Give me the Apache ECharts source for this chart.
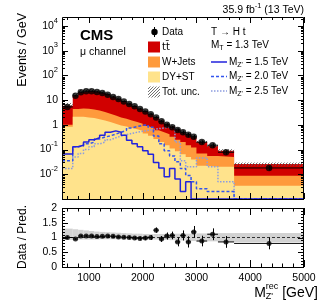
<!DOCTYPE html>
<html><head><meta charset="utf-8">
<script src="https://cdn.jsdelivr.net/npm/echarts@6/dist/echarts.min.js"></script>
<style>html,body{margin:0;padding:0;background:#fff}#c{width:324px;height:305px}</style>
</head><body><div id="c"></div>
<script>
// ---------------- data ----------------
const binLo = [500,700,800,900,1000,1100,1200,1300,1400,1500,1600,1700,1800,1900,2000,2100,2200,2300,2400,2500,2600,2700,2800,2900,3000,3200,3400,3700];
const binHi = [700,800,900,1000,1100,1200,1300,1400,1500,1600,1700,1800,1900,2000,2100,2200,2300,2400,2500,2600,2700,2800,2900,3000,3200,3400,3700,5000];
const dataVals = [5.3,15,21,23,23,21.5,19.5,16.5,13.5,11,8.8,7,5.6,4.4,3.5,2.7,2.0,1.4,1.0,0.8,0.62,0.5,0.4,0.33,0.2,0.15,0.078,0.018];
const dataErrRel = [0.06,0.04,0.03,0.03,0.03,0.03,0.03,0.035,0.04,0.04,0.045,0.05,0.055,0.06,0.07,0.08,0.09,0.1,0.12,0.13,0.15,0.17,0.19,0.2,0.18,0.2,0.2,0.2];
const ttbar = [4.9,10.6,16.4,18.5,18.8,17.7,16.2,13.7,11.1,9.0,7.05,5.5,4.3,3.3,2.6,1.95,1.4,1.0,0.68,0.52,0.4,0.3,0.25,0.2,0.13,0.085,0.04,0.0172];
const wjets = [0.17,2.3,2.5,2.5,2.3,2.1,1.8,1.5,1.3,1.05,0.9,0.75,0.64,0.53,0.45,0.39,0.33,0.3,0.27,0.22,0.165,0.135,0.1,0.08,0.048,0.035,0.03,0.0054];
const dyst = [0.83,2.1,2.1,2.0,1.9,1.7,1.5,1.3,1.1,0.95,0.85,0.75,0.66,0.57,0.45,0.36,0.27,0.2,0.15,0.11,0.085,0.065,0.05,0.04,0.022,0.02,0.02,0.0034];
const uncUp = [0.3,0.28,0.26,0.24,0.22,0.2,0.19,0.18,0.17,0.16,0.15,0.14,0.13,0.13,0.12,0.12,0.12,0.12,0.12,0.12,0.13,0.13,0.13,0.14,0.14,0.15,0.15,0.15];
const uncDn = [0.08,0.08,0.07,0.07,0.07,0.07,0.06,0.06,0.06,0.06,0.06,0.06,0.06,0.06,0.06,0.06,0.07,0.07,0.08,0.09,0.1,0.1,0.11,0.12,0.12,0.13,0.14,0.15];
const sigM15 = [0.066,0.13,0.15,0.2,0.25,0.3,0.38,0.5,0.57,0.5,0.38,0.24,0.17,0.13,0.09,0.065,0.03,0.018,0.008,0.017,0.0065,0.002,0.005,0,0,0,0,0];
const sigM20 = [0.035,0.13,0.14,0.17,0.2,0.27,0.32,0.36,0.42,0.5,0.6,0.75,0.85,0.95,1.0,0.8,0.35,0.17,0.09,0.055,0.032,0.017,0.009,0.005,0.0026,0.002,0.002,0];
const sigM25 = [0.017,0.05,0.07,0.1,0.13,0.17,0.2,0.25,0.3,0.35,0.4,0.45,0.5,0.55,0.6,0.65,0.7,0.75,0.8,0.7,0.2,0.035,0.02,0.02,0.046,0.02,0.005,0];
const ratioVals = [1.0,0.95,1.05,1.05,1.05,1.03,1.04,1.05,1.04,1.02,1.01,1.0,0.98,0.97,0.98,1.0,1.25,0.95,1.05,1.07,0.85,1.07,0.85,1.19,0.88,1.11,0.85,0.8];
const ratioErr = [0.05,0.03,0.03,0.03,0.03,0.03,0.03,0.035,0.04,0.04,0.045,0.05,0.055,0.06,0.07,0.08,0.09,0.1,0.12,0.13,0.15,0.17,0.19,0.2,0.18,0.2,0.2,0.2];
const xLabelVals = [1000,2000,3000,4000,5000];
const xMinorVals = [600,800,1200,1400,1600,1800,2200,2400,2600,2800,3200,3400,3600,3800,4200,4400,4600,4800];
const yMainExps = [-2,-1,0,1,2,3,4];
const ratioLabelVals = [0,0.5,1,1.5,2];
const legLeft = ['Data','tt\u0304','W+Jets','DY+ST','Tot. unc.'];
const sigLabels = ['1.5 TeV','2.0 TeV','2.5 TeV'];

// ---------------- style ----------------
const FONT = "'Liberation Sans', Arial, Helvetica, sans-serif";
const xMin = 500, xMax = 5000, yMin = 1e-3, yMax = 2.3e4;
const C_TT = '#d10000', C_W = '#fe9a3c', C_DY = '#ffe38c';
const C_S15 = '#2222dd', C_S20 = '#3355ee', C_S25 = '#8c9ce0';

const hatch = document.createElement('canvas');
hatch.width = 3; hatch.height = 3;
(function(){const g=hatch.getContext('2d');g.fillStyle='rgba(90,90,90,0.85)';g.fillRect(0,2,1,1);g.fillRect(1,1,1,1);g.fillRect(2,0,1,1);})();
const hatchPat = {image: hatch, repeat: 'repeat'};

const n = binLo.length;
const centers = binLo.map((l,i)=>(l+binHi[i])/2);
const cumDY = dyst.slice();
const cumW = dyst.map((v,i)=>v+wjets[i]);
const cumTot = cumW.map((v,i)=>v+ttbar[i]);
const step = vals => { const p=[]; vals.forEach((v,i)=>{ const y = v>0? v : yMin; p.push([binLo[i],y],[binHi[i],y]); }); return p; };

const mctx = document.createElement('canvas').getContext('2d');
function tw(t, size, bold, fam){ mctx.font = (bold?'bold ':'') + size + 'px ' + (fam||FONT); return mctx.measureText(t).width; }
function run(pieces, x, y, align){
  let total=0, pend=0;
  pieces.forEach(p=>{ const w=tw(p.t,p.s,p.bold,p.fam); if(p.noAdv){pend=Math.max(pend,w);} else {total+=Math.max(w,pend);pend=0;} });
  let cx = align==='right' ? x-total : x;
  const out=[]; pend=0;
  pieces.forEach(p=>{ const w=tw(p.t,p.s,p.bold,p.fam);
    out.push({type:'text', x:cx, y:y+(p.dy||0), z:50, style:{text:p.t, font:(p.bold?'bold ':'')+p.s+'px '+(p.fam||FONT), fill:'#000', textAlign:'left', textVerticalAlign:'middle'}});
    if(p.noAdv){pend=Math.max(pend,w);} else {cx+=Math.max(w,pend);pend=0;}
  });
  return out;
}

function tickSeries(xi, yi, xMaj, xMinr, yMaj, yMinr, L, xRef, yRef){
  return {type:'custom', xAxisIndex:xi, yAxisIndex:yi, z:30, silent:true, clip:false,
    data:[[xRef,yRef]],
    renderItem(params, api){
      const cs=params.coordSys, x0=cs.x, x1=cs.x+cs.width, y0=cs.y, y1=cs.y+cs.height;
      const ch=[], st={stroke:'#000', lineWidth:1};
      const ln=(a,b,c,d)=>ch.push({type:'line', shape:{x1:a,y1:b,x2:c,y2:d}, style:st});
      const tx=(v,len)=>{const p=Math.round(api.coord([v,yRef])[0])+0.5; ln(p,y1,p,y1-len); ln(p,y0,p,y0+len);};
      const ty=(v,len)=>{const p=Math.round(api.coord([xRef,v])[1])+0.5; ln(x0,p,x0+len,p); ln(x1,p,x1-len,p);};
      xMaj.forEach(v=>tx(v,L[0])); xMinr.forEach(v=>tx(v,L[1]));
      yMaj.forEach(v=>ty(v,L[2])); yMinr.forEach(v=>ty(v,L[3]));
      ch.push({type:'rect', shape:{x:Math.round(x0)+0.5,y:Math.round(y0)+0.5,width:Math.round(cs.width)-1,height:Math.round(cs.height)}, style:{fill:null, stroke:'#000', lineWidth:1}});
      return {type:'group', children:ch};
    }};
}
const yMajVals = [-3,-2,-1,0,1,2,3,4].map(e=>Math.pow(10,e));
const yMinVals = []; [-3,-2,-1,0,1,2,3,4].forEach(e=>{for(let k=2;k<=9;k++){const v=k*Math.pow(10,e); if(v<yMax) yMinVals.push(v);}});
const rMinVals = []; for(let k=1;k<20;k++){ if(k%5) rMinVals.push(k/10); }

function errBars(xi, yi, vals, lowF, highF){
  return {type:'custom', xAxisIndex:xi, yAxisIndex:yi, z:15, silent:true,
    data: vals.map((v,i)=>[binLo[i],binHi[i],v,lowF(v,i),highF(v,i)]),
    renderItem(params, api){
      const lo=api.value(0), hi=api.value(1), v=api.value(2), a=api.value(3), b=api.value(4);
      const c=(lo+hi)/2; const pL=api.coord([lo,v]), pR=api.coord([hi,v]), pA=api.coord([c,a]), pB=api.coord([c,b]);
      const st={stroke:'#000', lineWidth:1};
      const xc=Math.round(pA[0])+0.5;
      return {type:'group', children:[
        {type:'line', shape:{x1:pL[0],y1:pL[1],x2:pR[0],y2:pR[1]}, style:st},
        {type:'line', shape:{x1:xc,y1:pA[1],x2:xc,y2:pB[1]}, style:st}]};
    }};
}

const chart = echarts.init(document.getElementById('c'), null, {renderer:'canvas', width:324, height:305});
const option = {
  animation:false,
  grid:[{left:62, top:17, width:242, height:182},{left:62, top:208, width:242, height:59}],
  xAxis:[
    {type:'value', gridIndex:0, min:xMin, max:xMax, interval:500, axisLabel:{show:false}, axisTick:{show:false}, axisLine:{show:false}, splitLine:{show:false}},
    {type:'value', gridIndex:1, min:xMin, max:xMax, interval:500, axisTick:{show:false}, axisLine:{show:false}, splitLine:{show:false},
     axisLabel:{show:true, margin:6, fontSize:10.5, fontFamily:FONT, color:'#000', showMinLabel:false,
       formatter:v=> xLabelVals.includes(v)? String(v):''}}
  ],
  yAxis:[
    {type:'log', gridIndex:0, logBase:10, min:yMin, max:yMax, splitNumber:8, axisTick:{show:false}, axisLine:{show:false}, splitLine:{show:false},
     axisLabel:{margin:4, fontFamily:FONT, color:'#000',
       formatter:v=>{const e=Math.log10(v), r=Math.round(e); if(Math.abs(e-r)>1e-6 || !yMainExps.includes(r)) return ''; if(r===0) return '{b|1}'; if(r===1) return '{b|10}'; return '{b|10}{s|'+r+'}';},
       rich:{b:{fontSize:10.5, fontFamily:FONT, color:'#000', lineHeight:11, verticalAlign:'bottom'}, s:{fontSize:7.5, fontFamily:FONT, color:'#000', lineHeight:8, padding:[0,0,7,0], verticalAlign:'bottom'}}}},
    {type:'value', gridIndex:1, min:0, max:2, interval:0.5, axisTick:{show:false}, axisLine:{show:false}, splitLine:{show:false},
     axisLabel:{margin:5, fontSize:10.5, fontFamily:FONT, color:'#000', formatter:v=> ratioLabelVals.includes(v)? String(v):''}}
  ],
  series:[
    {type:'line', xAxisIndex:0, yAxisIndex:0, data:step(cumTot), symbol:'none', lineStyle:{width:0}, areaStyle:{color:C_TT, opacity:1, origin:'start'}, z:2},
    {type:'line', xAxisIndex:0, yAxisIndex:0, data:step(cumW), symbol:'none', lineStyle:{width:0}, areaStyle:{color:C_W, opacity:1, origin:'start'}, z:3},
    {type:'line', xAxisIndex:0, yAxisIndex:0, data:step(cumDY), symbol:'none', lineStyle:{width:0}, areaStyle:{color:C_DY, opacity:1, origin:'start'}, z:4},
    {type:'custom', xAxisIndex:0, yAxisIndex:0, z:5, silent:true,
     data: cumTot.map((v,i)=>[binLo[i],binHi[i],v*(1-uncDn[i]),v*(1+uncUp[i])]),
     renderItem(params, api){ const a=api.coord([api.value(0),api.value(3)]), b=api.coord([api.value(1),api.value(2)]);
       return {type:'rect', shape:{x:a[0],y:a[1],width:b[0]-a[0],height:b[1]-a[1]}, style:{fill:hatchPat}}; }},
    {type:'line', xAxisIndex:0, yAxisIndex:0, data:step(sigM25), symbol:'none', lineStyle:{color:C_S25, width:1.5, type:[1.5,1.5]}, z:6},
    {type:'line', xAxisIndex:0, yAxisIndex:0, data:step(sigM20), symbol:'none', lineStyle:{color:C_S20, width:1.5, type:[3,2]}, z:7},
    {type:'line', xAxisIndex:0, yAxisIndex:0, data:step(sigM15), symbol:'none', lineStyle:{color:C_S15, width:1.5}, z:8},
    errBars(0,0,dataVals,(v,i)=>v*(1-dataErrRel[i]),(v,i)=>v*(1+dataErrRel[i])),
    {type:'scatter', xAxisIndex:0, yAxisIndex:0, data:dataVals.map((v,i)=>[centers[i],v]), symbol:'circle', symbolSize:6.5, itemStyle:{color:'#000'}, z:16},
    {type:'custom', xAxisIndex:1, yAxisIndex:1, z:2, silent:true,
     data: binLo.map((l,i)=>[l,binHi[i],1-uncDn[i],1+uncUp[i]]),
     renderItem(params, api){ const a=api.coord([api.value(0),api.value(3)]), b=api.coord([api.value(1),api.value(2)]);
       return {type:'rect', shape:{x:a[0],y:a[1],width:b[0]-a[0],height:b[1]-a[1]}, style:{fill:'#d2d2d2'}}; }},
    {type:'line', xAxisIndex:1, yAxisIndex:1, data:[[xMin,1],[xMax,1]], symbol:'none', lineStyle:{color:'#333', width:1, type:[3,2]}, z:3},
    errBars(1,1,ratioVals,(v,i)=>v-ratioErr[i],(v,i)=>v+ratioErr[i]),
    {type:'scatter', xAxisIndex:1, yAxisIndex:1, data:ratioVals.map((v,i)=>[centers[i],v]), symbol:'circle', symbolSize:5, itemStyle:{color:'#000'}, z:16},
    tickSeries(0,0,xLabelVals,xMinorVals,yMajVals,yMinVals,[6,3,6,3],1000,1),
    tickSeries(1,1,xLabelVals,xMinorVals,ratioLabelVals,rMinVals,[7,3.5,6,3],1000,1)
  ],
  graphic:{elements:[]}
};

const G = option.graphic.elements;
G.push(...run([{t:'35.9 fb',s:10.5},{t:'-1',s:7.5,dy:-4},{t:' (13 TeV)',s:10.5}],304,10,'right'));
G.push(...run([{t:'CMS',s:15,bold:true}],80,35.5,'left'));
G.push(...run([{t:'\u03bc channel',s:10.5}],80,52,'left'));
G.push({type:'text', x:23, y:13, rotation:Math.PI/2, z:50, style:{text:'Events / GeV', font:'12.5px '+FONT, fill:'#000', textAlign:'right', textVerticalAlign:'middle'}});
G.push({type:'text', x:23, y:237, rotation:Math.PI/2, z:50, style:{text:'Data / Pred.', font:'12px '+FONT, fill:'#000', textAlign:'center', textVerticalAlign:'middle'}});
G.push(...run([{t:'M',s:14},{t:'rec',s:9,dy:-6,noAdv:true},{t:"Z'",s:9,dy:4},{t:' [GeV]',s:14}],318,293,'right'));
const rowsL=[32,47,62,77,92];
G.push({type:'line', z:50, shape:{x1:154.5,y1:27,x2:154.5,y2:37}, style:{stroke:'#000',lineWidth:1}});
G.push({type:'circle', z:50, shape:{cx:154.5,cy:32,r:3.2}, style:{fill:'#000'}});
[C_TT,C_W,C_DY].forEach((c,k)=>G.push({type:'rect', z:50, shape:{x:148,y:rowsL[k+1]-5.5,width:12,height:11}, style:{fill:c}}));
G.push({type:'rect', z:50, shape:{x:148,y:rowsL[4]-5.5,width:12,height:11}, style:{fill:hatchPat}});
legLeft.forEach((t,k)=>G.push(...run([{t:t,s:10,fam:(k===1?"'DejaVu Sans', sans-serif":null)}],162,rowsL[k],'left')));
G.push(...run([{t:'T \u2192 H t',s:10}],211,32,'left'));
G.push(...run([{t:'M',s:10},{t:'T',s:7,dy:3},{t:' = 1.3 TeV',s:10}],211,45,'left'));
const rowsR=[62,76.5,91];
[[C_S15,null],[C_S20,[3,2]],[C_S25,[1.5,1.5]]].forEach((c,k)=>G.push({type:'line', z:50, shape:{x1:211,y1:rowsR[k],x2:227,y2:rowsR[k]}, style:{stroke:c[0],lineWidth:1.5,lineDash:c[1]}}));
sigLabels.forEach((t,k)=>G.push(...run([{t:'M',s:10},{t:"Z'",s:7,dy:3},{t:' = '+t,s:10}],229,rowsR[k],'left')));

chart.setOption(option);
</script></body></html>
